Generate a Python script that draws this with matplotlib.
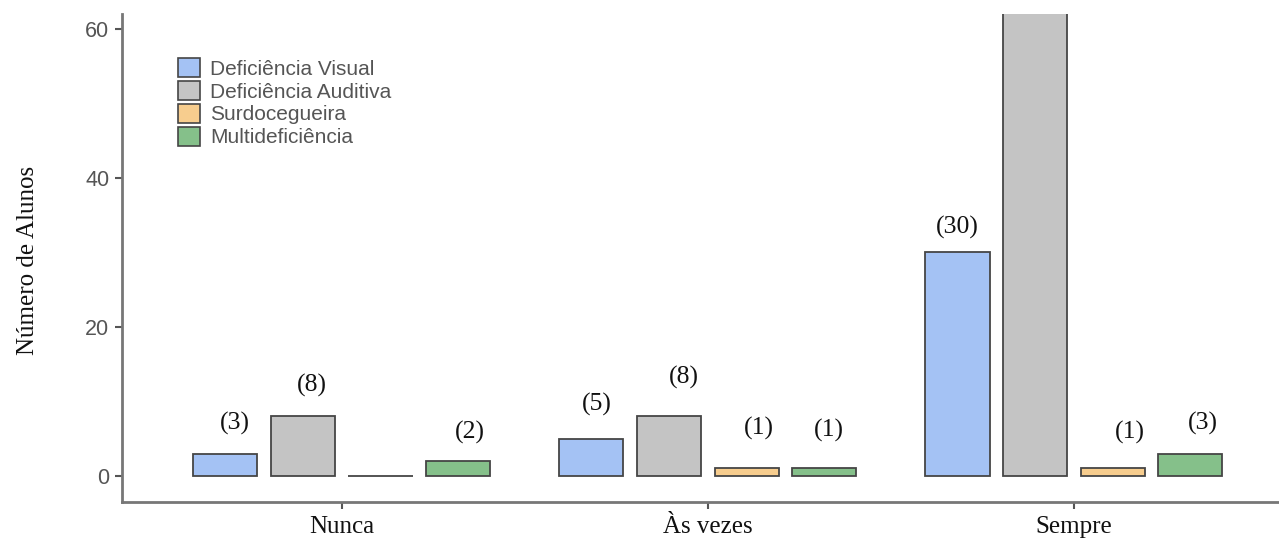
import numpy as np
import matplotlib.pyplot as plt
from matplotlib.patches import Patch

# Dados (Sempre / Deficiência Auditiva passa do topo do eixo no original)
categorias = ["Nunca", "Às vezes", "Sempre"]
grupos = ["Deficiência Visual", "Deficiência Auditiva", "Surdocegueira", "Multideficiência"]
visual = [3, 5, 30]
auditiva = [8, 8, 70]
surdocegueira = [0, 1, 1]
multi = [2, 1, 3]

cores = ["#a4c2f4", "#c4c4c4", "#f7cd8e", "#85c08a"]
borda = "#454545"

# deslocamentos (px) dos rótulos, como aparecem no original
desloc_x = [[10, 5, 0], [9, 15, 0], [0, 12, 17], [12, 5, 12]]
desloc_y = [[30, 34, 25], [31, 39, 0], [0, 40, 36], [29, 38, 30]]

serif = "Liberation Serif"
sans = "Liberation Sans"

fig = plt.figure(figsize=(12.79, 5.4), dpi=100)
ax = fig.add_axes([122 / 1279, 38 / 540, 1157 / 1279, 488 / 540])

x = np.arange(len(categorias))
largura = 0.175
passo = 0.212
series = [visual, auditiva, surdocegueira, multi]

for i, (vals, cor) in enumerate(zip(series, cores)):
    pos = x + (i - 1.5) * passo
    ax.bar(pos, vals, width=largura, color=cor, edgecolor=borda, linewidth=1.3)
    for j, v in enumerate(vals):
        if v == 0:
            continue
        ax.annotate(f"({v})", (pos[j], v), xytext=(desloc_x[i][j], desloc_y[i][j]),
                    textcoords="offset pixels", ha="center", va="center",
                    fontsize=18.5, family=serif, color="#111111")

ax.set_xlim(-0.6, 2.56)
ax.set_ylim(-3.5, 62)
ax.set_yticks([0, 20, 40, 60])
ax.set_xticks(x)
ax.set_xticklabels(categorias, fontsize=18, family=serif, color="#111111")
for t in ax.get_yticklabels():
    t.set_family(sans)
    t.set_fontsize(15.5)
    t.set_color("#555555")
ax.tick_params(axis="both", length=5, width=1.5, color="#555555")
ax.tick_params(axis="y", pad=4)
ax.tick_params(axis="x", pad=5)

for s in ["top", "right"]:
    ax.spines[s].set_visible(False)
for s in ["left", "bottom"]:
    ax.spines[s].set_color("#777777")
    ax.spines[s].set_linewidth(2)

fig.text(28 / 1279, 1 - 260 / 540, "Número de Alunos", rotation=90, ha="center",
         va="center", fontsize=18, family=serif, color="#111111")

handles = [Patch(facecolor=c, edgecolor=borda, linewidth=1.2) for c in cores]
ax.legend(handles, grupos, loc="upper left", bbox_to_anchor=(178 / 1279, 1 - 58 / 540),
          bbox_transform=fig.transFigure, frameon=False, borderpad=0, borderaxespad=0,
          handlelength=1.05, handleheight=1.05, labelspacing=0.1, handletextpad=0.5,
          prop={"family": sans, "size": 15}, labelcolor="#555555")

fig.savefig("out.png", dpi=100)
